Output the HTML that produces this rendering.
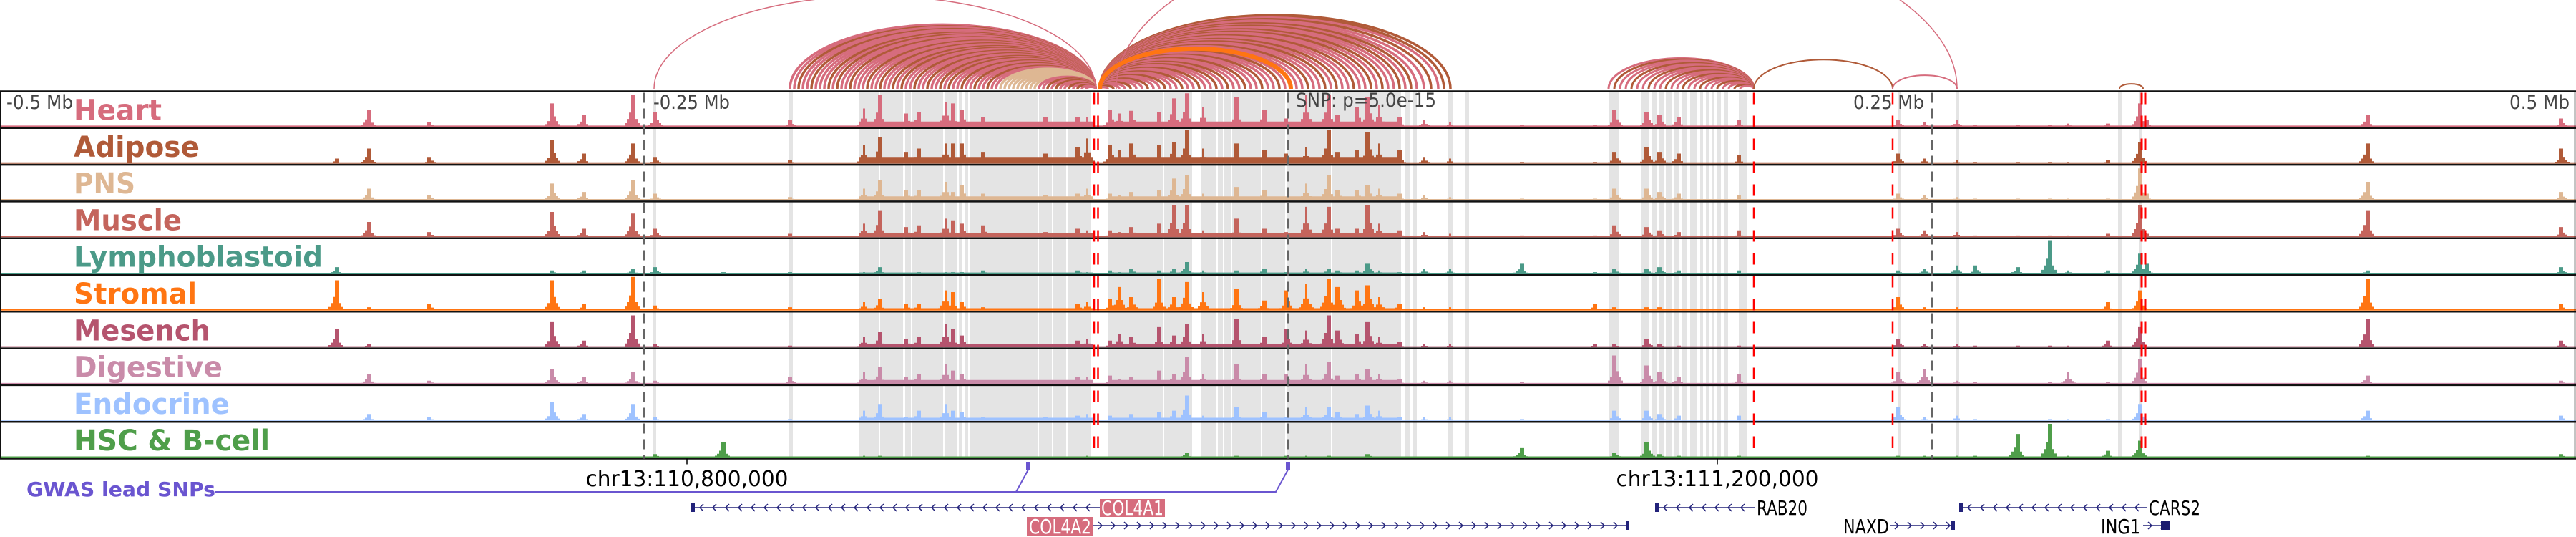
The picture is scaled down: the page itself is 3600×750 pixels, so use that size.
<!DOCTYPE html>
<html><head><meta charset="utf-8"><style>
html,body{margin:0;padding:0;background:#fff;width:3600px;height:750px;overflow:hidden}
svg{display:block}
text{font-family:"DejaVu Sans Condensed","DejaVu Sans","Liberation Sans",sans-serif}
</style></head><body>
<svg id="fig" xmlns="http://www.w3.org/2000/svg" width="3600" height="750" viewBox="0 0 3600 750"></svg>
<script>
// ---- data ----
const trackNames = ["Heart","Adipose","PNS","Muscle","Lymphoblastoid","Stromal","Mesench","Digestive","Endocrine","HSC & B-cell"];
const trackColors = ["#d66c7d","#b05a38","#deb793","#c4645c","#4b9a88","#ff7512","#b5546e","#c98ba9","#9ec2ff","#4f9e4a"];
const labelWidths = [123,176,86,151,348,172,191,208,218,274];
const peakKb = [-356.9,-369.4,-333.3,-285.6,-273.6,-254.2,-245.8,-219.4,-193.3,-164.7,-158.6,-148.1,-143.6,-132.8,-130,-126.4,-118.1,-93.9,-81.4,-77.8,-68.9,-65.3,-60.6,-50,-44.4,-39.4,-32.8,-20,-9.4,-0.6,7.2,15.6,19.4,26.9,31.1,35.3,43.1,52.8,62.8,90.6,118.9,126.7,139.4,144.4,151.4,175,236.9,247.2,259.7,266.7,283.3,295.8,302.8,318.1,330.6,333.3,418.9,494.4];
const heartH   = [.5,0,.15,.7,.35,.95,.45,0,.2,.55,.95,.4,.45,.75,.7,.5,.3,.3,.3,.3,.5,.4,.48,.45,.85,1,.6,.9,.5,.25,.95,.95,.35,.6,.9,.65,.3,.2,.15,.05,.05,.5,.45,.35,.3,.2,.2,.15,.2,.05,.05,.05,.1,.1,.7,.2,.35,.25];
const adiposeH = [.45,.15,.2,.7,.3,.6,.2,0,.1,.55,.8,.35,.45,.6,.6,.6,.35,.3,.5,.75,.55,.4,.6,.55,.65,1,.45,.6,.4,.3,.5,1,.35,.4,.95,.6,.4,.2,.15,.05,.05,.35,.5,.35,.3,.25,.3,.15,.1,.05,.05,.05,.05,.1,.65,0,.6,.45];
const pnsH     = [.35,0,.15,.5,.25,.6,.2,0,.1,.35,.6,.3,.3,.55,.25,.45,.2,.15,.2,.35,.2,.15,.25,.3,.65,.75,.2,.4,.3,.1,.5,.75,.3,.3,.45,.35,.2,.15,.1,.05,.05,.35,.35,.25,.2,.15,.2,.15,.1,.05,.05,.05,.05,.05,.95,.2,.55,.25];
const muscleH  = [.45,0,.15,.75,.25,.7,.25,0,.1,.4,.8,.3,.35,.55,.5,.4,.35,.15,.25,.2,.2,.15,.3,.4,.95,.95,.2,.55,.25,.15,.9,.9,.25,.25,.95,.4,.2,.15,.1,.05,.05,.35,.3,.2,.15,.2,.25,.2,.15,.05,.05,.05,.05,.1,.95,.1,.8,.3];
const lymphH   = [0,.2,0,.1,.1,.15,.2,.05,.05,.05,.2,0,.05,.05,.05,.05,.1,0,.1,.05,.1,.05,.15,.1,.15,.35,.1,.1,.15,.05,.15,.15,.1,.1,.3,.1,.05,.15,.15,.3,.05,.15,.15,.2,.1,.1,.1,.15,.25,.25,.2,1,.1,.1,.6,.3,.1,.2];
const stromalH = [.1,.9,.2,.9,.2,1,.15,0,.1,.25,.35,.2,.2,.6,.55,.25,.1,.05,.2,.25,.35,.7,.4,.95,.4,.85,.55,.65,.3,.6,.8,.95,.7,.6,.75,.4,.2,.1,.1,.05,.2,.1,.1,.1,.05,.05,.4,.1,.1,.05,.05,.05,.05,.25,.6,0,.95,.2];
const mesenchH = [.1,.55,0,.75,.2,.95,.1,0,.05,.3,.45,.25,.3,.7,.55,.35,.1,.05,.2,.25,.2,.4,.3,.6,.35,.7,.4,.85,.3,.55,.5,.95,.5,.4,.75,.3,.15,.1,.1,0,.1,.1,.25,.1,.05,.05,.25,.1,.1,.05,.05,.05,.05,.2,.6,0,.85,.2];
const digestH  = [.3,0,.1,.45,.2,.35,.1,0,.2,.35,.5,.2,.3,.6,.4,.3,.1,.1,.2,.2,.25,.15,.2,.4,.3,.8,.3,.6,.3,.3,.6,.65,.25,.3,.45,.3,.15,.1,.1,.05,0,.85,.55,.35,.2,.3,.35,.45,.1,.05,0,.05,.35,.05,.75,0,.25,.1];
const endoH    = [.2,0,.1,.55,.2,.5,.1,0,.05,.3,.5,.1,.3,.5,.3,.25,.1,.1,.15,.2,.15,.05,.2,.25,.3,.75,.15,.4,.25,.1,.4,.4,.25,.2,.45,.3,.1,.1,.1,.05,0,.3,.3,.2,.15,.15,.4,.1,.15,.05,0,.05,.05,.05,.5,0,.3,.15];
const hscH     = [0,0,0,0,0,0,.1,.45,0,.05,.05,0,0,0,0,0,0,0,0,.05,0,0,0,0,0,.15,0,.05,0,.05,.05,.05,0,0,.1,0,0,0,0,.3,0,.15,.45,.1,.05,.05,.05,.05,.05,.05,.7,1,.05,.2,.5,0,.05,.1];
const peakHeights = [heartH,adiposeH,pnsH,muscleH,lymphH,stromalH,mesenchH,digestH,endoH,hscH];
const coreRegionsKb = [[-167,-76],[-70,44]];
const bgCore  = [.16,.2,.12,.12,.04,.07,.1,.12,.09,.03];
const bgOuter = [.04,.04,.04,.04,.03,.04,.03,.03,.03,.03];
const shadedPx = [[913,917],[1103,1108],[1200,1228],[1230,1262],[1265,1273],[1275,1318],[1320,1338],[1340,1345],[1348,1353],[1355,1450],[1452,1470],[1472,1490],[1492,1525],[1548,1625],[1627,1666],[1679,1700],[1702,1709],[1711,1720],[1722,1762],[1764,1796],[1798,1860],[1862,1958],[1963,1970],[1975,1980],[2024,2030],[2048,2053],[2248,2263],[2293,2305],[2308,2316],[2318,2325],[2328,2337],[2340,2346],[2350,2358],[2362,2372],[2376,2380],[2384,2388],[2392,2395],[2400,2405],[2410,2415],[2430,2441],[2652,2656],[2733,2738],[2960,2966],[2989,2993]];
// arcs
const arcColors = ["#d66c7d","#b05a38","#deb793","#ff7512"];
const anchorLeft = 1531, anchorRight = 1537, anchorRab = 2451;
const leftEnds = [1104,1110,1116,1122,1128,1134,1140,1146,1152,1158,1164,1170,1176,1182,1188,1194,1200,1206,1212,1218,1224,1230,1236,1242,1248,1254,1260,1266,1272,1278,1284,1290,1296,1302,1308,1314,1320,1326,1332,1338,1344,1350,1356,1362,1368,1374,1380,1386,1392,1398,1404,1410,1416,1422,1428,1434,1440,1446,1452,1458,1464,1470,1476,1482,1488,1494,1500,1506,1512,1518];
const leftColors = [0,0,1,0,0,1,0,0,0,1,0,1,0,0,1,0,0,0,1,0,0,1,0,0,1,0,1,0,0,1,0,0,1,0,0,1,0,1,0,0,1,0,0,1,0,0,1,0,0,2,2,2,2,2,2,2,2,2,0,0,1,0,1,0,0,1,0,1,0,0];
const rightEnds = [2027,2018,2010,2000,1990,1980,1972,1964,1956,1948,1940,1932,1924,1916,1908,1900,1892,1884,1876,1868,1860,1852,1844,1836,1828,1820,1812,1796,1788,1780,1772,1764,1756,1748,1740,1732,1724,1716,1708,1700,1692,1684,1676,1668,1660,1652,1644,1636,1628,1620,1612,1604,1596,1588,1580,1572,1564,1556,1548];
const rightColors = [1,1,0,1,0,0,1,0,1,0,0,1,0,1,0,0,1,0,0,1,0,1,0,0,1,0,0,0,1,0,0,1,0,0,1,0,0,1,0,1,0,0,1,0,0,1,0,0,1,0,0,1,0,0,1,0,0,1,0];
const rabEnds = [2248,2256,2264,2272,2280,2288,2296,2304,2312,2320,2328,2336,2344,2352,2360,2368,2376,2384,2392,2400,2408,2416,2424,2432];
const extraArcs = [[914,1531,0],[1560,2735,0],[1537,1804,3],[2451,2645,1],[2645,2735,0],[2962,2995,1]];
// genes: [name, startPx, endPx, row, strand]
const genes = [["COL4A1",966,1537,0,-1],["COL4A2",1528,2277,1,1],["RAB20",2313,2452,0,-1],["NAXD",2641,2732,1,1],["CARS2",2738,3000,0,-1],["ING1",2995,3033,1,1]];
const axisLabels = ["-0.5 Mb","-0.25 Mb","0.25 Mb","0.5 Mb"];

// ---- drawing ----
const svg = document.getElementById('fig');
const NS = "http://www.w3.org/2000/svg";
const xKb = kb => 1800 + kb * 3.6;
const T0 = 127.5, TH = 51.3, MAXH = 47;
function mk(tag, attrs, parent){ const e=document.createElementNS(NS,tag); for(const k in attrs) e.setAttribute(k,attrs[k]); (parent||svg).appendChild(e); return e; }

const gShade = mk('g',{});


shadedPx.forEach(r=>{ const e=mk('rect',{x:r[0],y:T0,width:r[1]-r[0],height:TH*10,fill:'#e4e4e4'},gShade);
  
   });

function kern(d){ if(d<2.5)return 1; if(d<4.5)return .45; if(d<7.5)return .25; if(d<10.5)return .12; return 0; }
trackNames.forEach((nm,i)=>{
  const top = T0 + i*TH, base = top + TH - 1.5;
  const g = mk('g',{});
  
  
  let d='';
  const hs = peakHeights[i];
  for(let x=0;x<3600;x+=3){
    const cx=x+1.5, kbv=(cx-1800)/3.6;
    let v = bgOuter[i];
    coreRegionsKb.forEach(r=>{ if(kbv>=r[0]&&kbv<=r[1]) v=bgCore[i]; });
    for(let p=0;p<peakKb.length;p++){ const dd=Math.abs(cx-xKb(peakKb[p])); if(dd<11){ const val=hs[p]*kern(dd); if(val>v) v=val; } }
    const h = Math.max(1.5, v*MAXH);
    d += `M${x},${base}h3v${-h}h-3z`;
  }
  const path = mk('path',{d:d,fill:trackColors[i]},g);
  
  
});

for(let i=0;i<=10;i++){ const e=mk('line',{x1:0,x2:3600,y1:T0+i*TH,y2:T0+i*TH,stroke:'#111','stroke-width':2.5});
  
   }
const fr = mk('rect',{x:0.5,y:T0,width:3598,height:TH*10,fill:'none',stroke:'#111','stroke-width':1.5});



[900,1800,2700].forEach(x=>{ const e=mk('line',{x1:x,x2:x,y1:T0+2,y2:T0+TH*10,stroke:'#666','stroke-width':2,'stroke-dasharray':'14,8'});
  
   });
[[1529,2.5],[1534.5,2.5],[2451,2.5],[2645,2.5],[2993,3],[2998,3]].forEach(r=>{ const e=mk('line',{x1:r[0],x2:r[0],y1:T0+2,y2:T0+TH*10,stroke:'#ff0000','stroke-width':r[1],'stroke-dasharray':'16,16'});
  
   });

// arcs
const gArc = mk('g',{fill:'none'});


const AB = 124;
function arc(s,e,c,w){ const rx=(e-s)/2, ry=0.21*(e-s);
  const p=mk('path',{d:`M${s},${AB} A${rx},${ry} 0 0 1 ${e},${AB}`,stroke:arcColors[c],'stroke-width':w},gArc);
  
   }
leftEnds.forEach((s,i)=>arc(s,anchorLeft,leftColors[i],3.5));
rightEnds.forEach((e,i)=>arc(anchorRight,e,rightColors[i],3.5));
rabEnds.forEach((s,i)=>arc(s,anchorRab,i%3===1?1:0,3));
extraArcs.forEach(a=>arc(a[0],a[1],a[2],a[2]===3?6:(a[0]===914||a[0]===1560?1.5:2)));

// labels
trackNames.forEach((nm,i)=>{ const t=mk('text',{x:103,y:T0+i*TH+40,fill:trackColors[i],'font-size':40,'font-weight':'bold',textLength:labelWidths[i],lengthAdjust:'spacingAndGlyphs'});
  t.textContent=nm;
  
   });
const axW=[93,107,99,84], axX=[9,913,2590,3507];
axisLabels.forEach((s,i)=>{ const t=mk('text',{x:axX[i],y:152,fill:'#444','font-size':27,textLength:axW[i],lengthAdjust:'spacingAndGlyphs'});
  t.textContent=s;
  
   });
const snp=mk('text',{x:1811,y:149,fill:'#444','font-size':27,textLength:196,lengthAdjust:'spacingAndGlyphs'});
snp.textContent='SNP: p=5.0e-15';



[[960,'chr13:110,800,000'],[2400,'chr13:111,200,000']].forEach(c=>{
  const l=mk('line',{x1:c[0],x2:c[0],y1:T0+TH*10,y2:T0+TH*10+8,stroke:'#000','stroke-width':1.5});
  
  
  const t=mk('text',{x:c[0],y:679,'text-anchor':'middle',fill:'#000','font-size':30,textLength:283,lengthAdjust:'spacingAndGlyphs'});
  t.textContent=c[1];
  
   });

const gw=mk('text',{x:37,y:693,fill:'#6a55d0','font-size':28,'font-weight':'bold',textLength:264,lengthAdjust:'spacingAndGlyphs'});
gw.textContent='GWAS lead SNPs';


const gl=mk('polyline',{points:'301,687 1420,687 1437,656 1420,687 1783,687 1800,656',fill:'none',stroke:'#6a55d0','stroke-width':2});


[1437,1800].forEach(x=>{ const r=mk('rect',{x:x-3,y:645,width:6,height:12,fill:'#6a55d0'});
  
   });

const rowY=[709,734];
genes.forEach(g=>{
  const [nm,s,e,row,str]=g, y=rowY[row];
  const grp=mk('g',{});
  
  
  mk('line',{x1:s,x2:e,y1:y,y2:y,stroke:'#22227a','stroke-width':1.5},grp);
  for(let x=s+12;x<e-6;x+=18){ const dx=str*5; mk('polyline',{points:`${x-dx},${y-5} ${x},${y} ${x-dx},${y+5}`,fill:'none',stroke:'#22227a','stroke-width':1.5},grp); }
  mk('rect',{x:(str<0?s:e-5),y:y-6,width:5,height:12,fill:'#22227a'},grp);
  if(nm==='ING1') mk('rect',{x:3020,y:y-6,width:13,height:12,fill:'#1a1a6e'},grp);
});
function geneLabel(txt,x,y,anchor,w,box){
  if(box){ const r=mk('rect',{x:box[0],y:box[1],width:box[2],height:box[3],fill:'#d66c7d'});
    
     }
  const t=mk('text',{x:x,y:y,'text-anchor':anchor,fill:box?'#fff':'#000','font-size':28,textLength:w,lengthAdjust:'spacingAndGlyphs'});
  t.textContent=txt;
  
  
}
geneLabel('COL4A1',1539,719,'start',87,[1537,697,91,25]);
geneLabel('COL4A2',1438,745,'start',87,[1435,722,92,26]);
geneLabel('RAB20',2455,719,'start',71);
geneLabel('NAXD',2640,745,'end',64);
geneLabel('CARS2',3003,719,'start',72);
geneLabel('ING1',2991,745,'end',55);
</script>
</body></html>
